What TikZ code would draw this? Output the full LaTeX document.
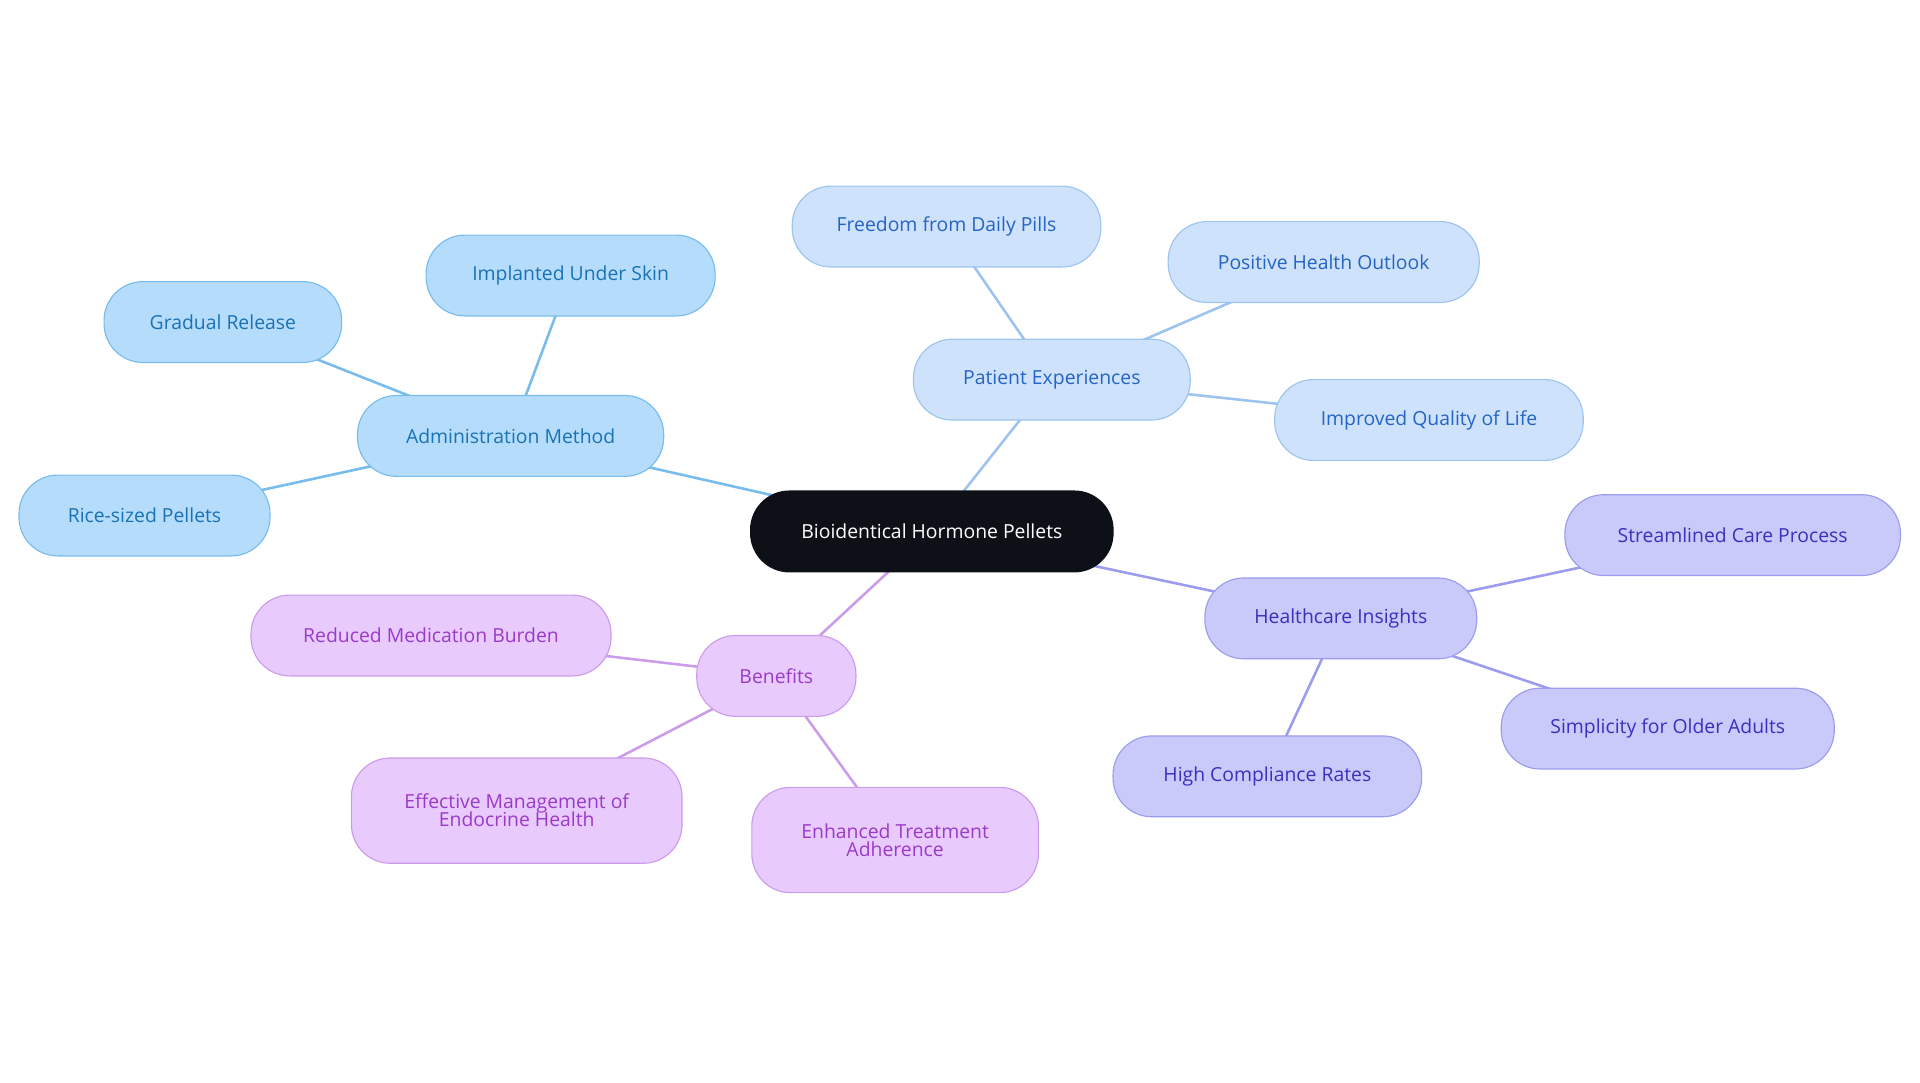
\documentclass[tikz,border=0pt]{standalone}
\usepackage{fontspec}
\setmainfont{Open Sans}
\usetikzlibrary{backgrounds}
\definecolor{cblk}{HTML}{0D1117}
\definecolor{afill}{HTML}{B5DDFB}\definecolor{aline}{HTML}{78BCEE}\definecolor{atext}{HTML}{1A72B6}
\definecolor{pfill}{HTML}{CEE3FB}\definecolor{pline}{HTML}{9CC4EE}\definecolor{ptext}{HTML}{2563C4}
\definecolor{hfill}{HTML}{C9C9FA}\definecolor{hline}{HTML}{9C9CEE}\definecolor{htext}{HTML}{3A30BE}
\definecolor{bfill}{HTML}{E8CBFC}\definecolor{bline}{HTML}{CC9CEC}\definecolor{btext}{HTML}{9A3ACA}
\begin{document}
\begin{tikzpicture}[x=0.03cm,y=-0.03cm,
 box/.style={rounded corners=0.95cm,minimum height=1.98cm,align=center,font=\fontsize{13.5}{15.5}\selectfont,inner sep=2pt,line width=0.8pt},
 ab/.style={box,fill=afill,draw=aline,text=atext},
 pb/.style={box,fill=pfill,draw=pline,text=ptext},
 hb/.style={box,fill=hfill,draw=hline,text=htext},
 bb/.style={box,fill=bfill,draw=bline,text=btext},
 ae/.style={draw=aline,line width=1.8pt},
 pe/.style={draw=pline,line width=1.8pt},
 he/.style={draw=hline,line width=1.8pt},
 be/.style={draw=bline,line width=1.8pt}]
\useasboundingbox (0,0) rectangle (1568,884);
\node[box,fill=cblk,draw=cblk,text=white,minimum width=8.88cm] (c) at (761,434) {Bioidentical Hormone Pellets};
\node[ab,minimum width=7.5cm] (a) at (417,356) {Administration Method};
\node[ab,minimum width=7.08cm] (a1) at (466,225) {Implanted Under Skin};
\node[ab,minimum width=5.82cm] (a2) at (182,263) {Gradual Release};
\node[ab,minimum width=6.15cm] (a3) at (118,421) {Rice-sized Pellets};
\node[pb,minimum width=6.78cm] (p) at (859,310) {Patient Experiences};
\node[pb,minimum width=7.56cm] (p1) at (773,185) {Freedom from Daily Pills};
\node[pb,minimum width=7.62cm] (p2) at (1081,214) {Positive Health Outlook};
\node[pb,minimum width=7.56cm] (p3) at (1167,343) {Improved Quality of Life};
\node[hb,minimum width=6.66cm] (h) at (1095,505) {Healthcare Insights};
\node[hb,minimum width=8.22cm] (h1) at (1415,437) {Streamlined Care Process};
\node[hb,minimum width=8.16cm] (h2) at (1362,595) {Simplicity for Older Adults};
\node[hb,minimum width=7.56cm] (h3) at (1035,634) {High Compliance Rates};
\node[bb,minimum width=3.9cm] (b) at (634,552) {Benefits};
\node[bb,minimum width=8.82cm] (b1) at (352,519) {Reduced Medication Burden};
\node[bb,minimum width=8.1cm,minimum height=2.58cm] (b2) at (422,662) {Effective Management of\\[-3pt]Endocrine Health};
\node[bb,minimum width=7.02cm,minimum height=2.58cm] (b3) at (731,686) {Enhanced Treatment\\[-3pt]Adherence};
\begin{scope}[on background layer]
\path[ae] (c.center)--(a.center) (a.center)--(a1.center) (a.center)--(a2.center) (a.center)--(a3.center);
\path[pe] (c.center)--(p.center) (p.center)--(p1.center) (p.center)--(p2.center) (p.center)--(p3.center);
\path[he] (c.center)--(h.center) (h.center)--(h1.center) (h.center)--(h2.center) (h.center)--(h3.center);
\path[be] (c.center)--(b.center) (b.center)--(b1.center) (b.center)--(b2.center) (b.center)--(b3.center);
\end{scope}
\end{tikzpicture}
\end{document}
